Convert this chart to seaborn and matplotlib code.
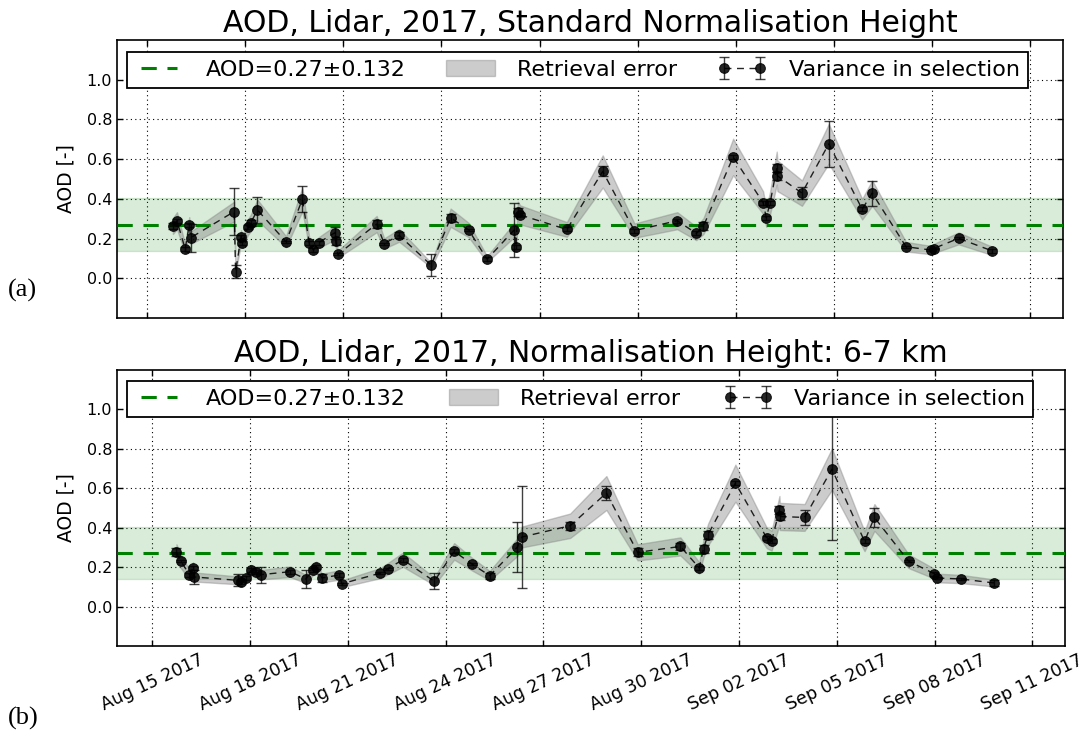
import numpy as np
import pandas as pd
import matplotlib
matplotlib.use("Agg")
import matplotlib.pyplot as plt
import matplotlib.dates as mdates
from matplotlib.ticker import FormatStrFormatter
from matplotlib.legend_handler import HandlerTuple
from matplotlib.patches import Patch
import seaborn as sns

# ---------------- data ----------------
aod_mean = 0.27
aod_std = 0.132
legend_labels = ["AOD=0.27\u00b10.132", "Retrieval error", "Variance in selection"]
titles = ["AOD, Lidar, 2017, Standard Normalisation Height",
          "AOD, Lidar, 2017, Normalisation Height: 6-7 km"]
tick_dates = ["2017-08-15", "2017-08-18", "2017-08-21", "2017-08-24", "2017-08-27",
              "2017-08-30", "2017-09-02", "2017-09-05", "2017-09-08", "2017-09-11"]

times_a = ["2017-08-15 19:00", "2017-08-15 22:00", "2017-08-16 04:00", "2017-08-16 07:00",
           "2017-08-16 08:00", "2017-08-17 16:00", "2017-08-17 17:00", "2017-08-17 21:00",
           "2017-08-17 22:00", "2017-08-18 02:00", "2017-08-18 04:00", "2017-08-18 09:00",
           "2017-08-19 06:00", "2017-08-19 18:00", "2017-08-19 23:00", "2017-08-20 02:00",
           "2017-08-20 06:00", "2017-08-20 18:00", "2017-08-20 18:20", "2017-08-20 20:00",
           "2017-08-22 00:30", "2017-08-22 06:00", "2017-08-22 17:00", "2017-08-23 16:30",
           "2017-08-24 06:45", "2017-08-24 20:00", "2017-08-25 09:30", "2017-08-26 05:20",
           "2017-08-26 06:40", "2017-08-26 08:00", "2017-08-26 09:50", "2017-08-27 20:00",
           "2017-08-28 22:20", "2017-08-29 21:35", "2017-08-31 05:00", "2017-08-31 19:00",
           "2017-09-01 00:15", "2017-09-01 22:00", "2017-09-02 20:00", "2017-09-02 22:20",
           "2017-09-03 01:10", "2017-09-03 06:00", "2017-09-03 06:30", "2017-09-04 00:30",
           "2017-09-04 20:10", "2017-09-05 20:40", "2017-09-06 04:00", "2017-09-07 04:50",
           "2017-09-07 23:20", "2017-09-08 01:10", "2017-09-08 19:25", "2017-09-09 20:00"]
aod_a = [0.263, 0.290, 0.148, 0.268, 0.204, 0.336, 0.034, 0.210, 0.180, 0.257, 0.277, 0.344,
         0.184, 0.398, 0.179, 0.142, 0.180, 0.230, 0.190, 0.121, 0.273, 0.175, 0.216, 0.066,
         0.305, 0.243, 0.096, 0.243, 0.158, 0.336, 0.319, 0.246, 0.538, 0.240, 0.290, 0.226,
         0.263, 0.611, 0.381, 0.305, 0.381, 0.555, 0.516, 0.429, 0.677, 0.348, 0.429, 0.159,
         0.142, 0.150, 0.201, 0.138]
var_a = [0.015, 0.010, 0.010, 0.010, 0.070, 0.120, 0.035, 0.010, 0.010, 0.010, 0.015, 0.065,
         0.005, 0.065, 0.010, 0.010, 0.010, 0.030, 0.020, 0.005, 0.020, 0.005, 0.015, 0.055,
         0.020, 0.005, 0.010, 0.135, 0.010, 0.020, 0.010, 0.010, 0.025, 0.010, 0.010, 0.010,
         0.020, 0.010, 0.010, 0.010, 0.010, 0.020, 0.020, 0.030, 0.115, 0.010, 0.063, 0.005,
         0.005, 0.005, 0.005, 0.010]
ret_a = [0.040, 0.043, 0.022, 0.040, 0.031, 0.050, 0.010, 0.032, 0.027, 0.039, 0.042, 0.052,
         0.028, 0.060, 0.027, 0.021, 0.027, 0.035, 0.029, 0.018, 0.041, 0.026, 0.032, 0.012,
         0.046, 0.036, 0.015, 0.036, 0.024, 0.050, 0.048, 0.037, 0.081, 0.036, 0.043, 0.034,
         0.040, 0.092, 0.057, 0.046, 0.057, 0.083, 0.077, 0.064, 0.100, 0.052, 0.064, 0.024,
         0.021, 0.023, 0.030, 0.021]

times_b = ["2017-08-15 17:45", "2017-08-15 21:00", "2017-08-16 03:20", "2017-08-16 06:00",
           "2017-08-16 07:00", "2017-08-17 15:00", "2017-08-17 17:00", "2017-08-17 20:40",
           "2017-08-18 00:45", "2017-08-18 04:00", "2017-08-18 08:10", "2017-08-19 05:30",
           "2017-08-19 17:00", "2017-08-19 22:20", "2017-08-20 00:45", "2017-08-20 04:50",
           "2017-08-20 17:30", "2017-08-20 19:40", "2017-08-22 00:00", "2017-08-22 05:30",
           "2017-08-22 16:30", "2017-08-23 15:35", "2017-08-24 06:15", "2017-08-24 19:40",
           "2017-08-25 08:25", "2017-08-26 04:50", "2017-08-26 08:10", "2017-08-27 19:40",
           "2017-08-28 22:20", "2017-08-29 21:20", "2017-08-31 04:50", "2017-08-31 18:40",
           "2017-08-31 21:50", "2017-09-01 01:10", "2017-09-01 21:20", "2017-09-02 20:25",
           "2017-09-03 00:00", "2017-09-03 05:45", "2017-09-03 06:00", "2017-09-04 00:15",
           "2017-09-04 20:25", "2017-09-05 20:25", "2017-09-06 03:40", "2017-09-07 04:50",
           "2017-09-07 23:45", "2017-09-08 01:40", "2017-09-08 19:10", "2017-09-09 19:40"]
aod_b = [0.275, 0.230, 0.162, 0.196, 0.150, 0.133, 0.123, 0.145, 0.184, 0.174, 0.162, 0.177,
         0.140, 0.187, 0.199, 0.145, 0.160, 0.116, 0.170, 0.192, 0.238, 0.128, 0.280, 0.214,
         0.157, 0.302, 0.353, 0.410, 0.576, 0.275, 0.305, 0.196, 0.294, 0.365, 0.626, 0.348,
         0.334, 0.488, 0.457, 0.452, 0.697, 0.331, 0.452, 0.230, 0.167, 0.145, 0.140, 0.120]
var_b = [0.020, 0.005, 0.010, 0.010, 0.035, 0.030, 0.010, 0.010, 0.010, 0.010, 0.040, 0.010,
         0.045, 0.010, 0.010, 0.020, 0.010, 0.005, 0.005, 0.005, 0.010, 0.040, 0.010, 0.005,
         0.015, 0.125, 0.260, 0.020, 0.035, 0.020, 0.020, 0.010, 0.020, 0.020, 0.010, 0.010,
         0.010, 0.020, 0.020, 0.040, 0.360, 0.010, 0.050, 0.005, 0.010, 0.005, 0.005, 0.015]
ret_b = [0.041, 0.035, 0.024, 0.029, 0.023, 0.020, 0.018, 0.022, 0.028, 0.026, 0.024, 0.027,
         0.021, 0.028, 0.030, 0.022, 0.024, 0.017, 0.026, 0.029, 0.036, 0.019, 0.042, 0.032,
         0.024, 0.045, 0.053, 0.062, 0.086, 0.041, 0.046, 0.029, 0.044, 0.055, 0.094, 0.052,
         0.050, 0.073, 0.069, 0.068, 0.105, 0.050, 0.068, 0.035, 0.025, 0.022, 0.021, 0.018]

# ---------------- style ----------------
sns.set_style("ticks")
plt.rcParams.update({
    "font.family": ["DejaVu Sans"],
    "text.color": "black", "axes.labelcolor": "black",
    "xtick.color": "black", "ytick.color": "black",
    "xtick.direction": "in", "ytick.direction": "in",
    "xtick.top": True, "ytick.right": True,
    "xtick.major.size": 4, "ytick.major.size": 4,
    "axes.edgecolor": "black", "axes.linewidth": 1.2,
    "legend.numpoints": 2,
})

fig = plt.figure(figsize=(10.92, 7.38), dpi=100)
W, H = 1092, 738
ax_a = fig.add_axes([117 / W, 1 - 318 / H, 946 / W, 278 / H])
ax_b = fig.add_axes([117 / W, 1 - 646 / H, 948 / W, 276 / H])


def draw(ax, times, vals, var, ret, title, xlim, bbox):
    t = pd.to_datetime(pd.Series(times))
    v = np.array(vals)
    r = np.array(ret)
    ax.axhspan(aod_mean - aod_std, aod_mean + aod_std, facecolor="green",
               edgecolor="green", alpha=0.15, lw=1, zorder=1)
    ax.fill_between(t, v - r, v + r, facecolor="gray", edgecolor="gray",
                    alpha=0.4, lw=1, zorder=2)
    gline = ax.axhline(aod_mean, color="green", ls=(0, (5, 3.5)), lw=2.2, zorder=3)
    df = pd.DataFrame({"t": t, "v": v})
    sns.lineplot(data=df, x="t", y="v", ax=ax, estimator=None, sort=False,
                 color="black", marker="o", markersize=7, markeredgecolor="black",
                 linestyle=(0, (5, 4)), linewidth=1, alpha=0.85, zorder=5)
    dline = ax.get_lines()[-1]
    eb = ax.errorbar(t, v, yerr=var, fmt="none", ecolor="black", elinewidth=1,
                     capsize=3.5, capthick=1, alpha=0.75, zorder=4)
    ax.set_xlim(pd.to_datetime(xlim[0]), pd.to_datetime(xlim[1]))
    ax.set_ylim(-0.2, 1.2)
    ax.set_yticks([0.0, 0.2, 0.4, 0.6, 0.8, 1.0])
    ax.yaxis.set_major_formatter(FormatStrFormatter("%.1f"))
    ax.set_xticks(pd.to_datetime(tick_dates))
    ax.xaxis.set_major_formatter(mdates.DateFormatter("%b %d %Y"))
    ax.grid(True, linestyle=(0, (1, 3)), color="black", linewidth=0.8)
    ax.tick_params(axis="both", labelsize=11.5, width=1)
    ax.set_xlabel("")
    ax.set_ylabel("AOD [-]", fontsize=13.5, labelpad=8)
    ax.set_title(title, fontsize=21.5, pad=6)
    patch = Patch(facecolor="gray", edgecolor="gray", alpha=0.4)
    leg = ax.legend([gline, patch, (eb, dline)], legend_labels, ncol=3,
                    loc="upper left", bbox_to_anchor=bbox, mode="expand",
                    borderaxespad=0, fancybox=False, framealpha=1, edgecolor="black",
                    fontsize=16, handlelength=2.2, handletextpad=1.0,
                    borderpad=0.35,
                    handler_map={tuple: HandlerTuple(ndivide=1)})
    leg.get_frame().set_linewidth(1.3)
    leg.set_zorder(10)


draw(ax_a, times_a, aod_a, var_a, ret_a, titles[0],
     ("2017-08-14 02:00", "2017-09-12 00:00"), (0.0106, 0.0, 0.952, 0.957))
draw(ax_b, times_b, aod_b, var_b, ret_b, titles[1],
     ("2017-08-13 22:00", "2017-09-12 00:00"), (0.0105, 0.0, 0.956, 0.96))

ax_a.tick_params(labelbottom=False)
for lab in ax_b.get_xticklabels():
    lab.set_rotation(25)
    lab.set_ha("center")
    lab.set_fontsize(12.5)

fig.text(8 / W, 1 - 290 / H, "(a)", family=["Liberation Serif", "DejaVu Serif"],
         fontsize=19, va="center", ha="left")
fig.text(8 / W, 1 - 718 / H, "(b)", family=["Liberation Serif", "DejaVu Serif"],
         fontsize=19, va="center", ha="left")

fig.savefig("out.png", dpi=100)
